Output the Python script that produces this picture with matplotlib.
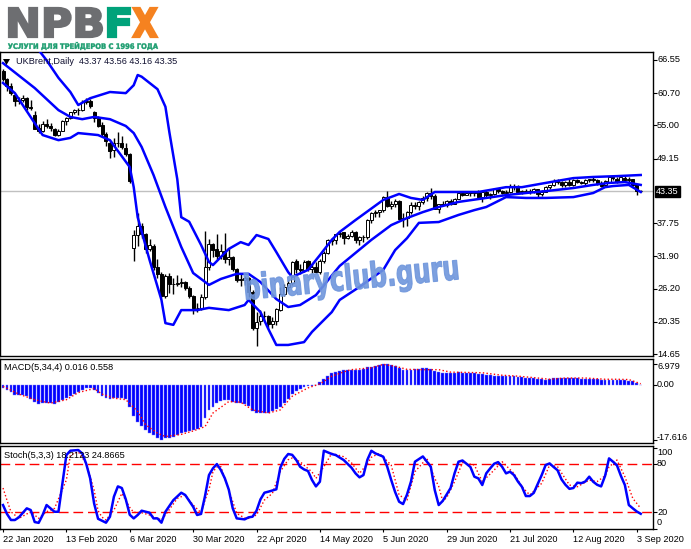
import numpy as np
import matplotlib
matplotlib.use('Agg')
import matplotlib.pyplot as plt
from matplotlib.patches import Rectangle, PathPatch, Polygon
from matplotlib.textpath import TextPath
from matplotlib.font_manager import FontProperties
from matplotlib.transforms import Affine2D, blended_transform_factory, ScaledTranslation

# --- daily UKBrent bars, 22 Jan 2020 .. 4 Sep 2020 ---
opens = [64.6, 63.2, 62.0, 60.4, 59.3, 59.5, 59.8, 58.3, 56.8, 54.5,
         54.0, 55.3, 54.9, 54.3, 53.3, 54.0, 55.8, 56.3, 57.3, 57.7,
         57.8, 59.1, 59.3, 57.4, 56.3, 55.0, 53.4, 51.9, 50.6, 51.9,
         51.9, 51.1, 50.0, 33.3, 35.6, 37.2, 35.8, 33.2, 33.8, 30.0,
         28.7, 24.9, 28.5, 27.0, 27.0, 27.2, 27.4, 26.3, 24.9, 22.8,
         22.7, 24.7, 30.0, 34.1, 33.1, 31.9, 32.8, 31.5, 31.7, 29.6,
         27.7, 27.8, 28.1, 25.6, 19.3, 20.4, 21.3, 21.4, 20.0, 20.5,
         22.5, 25.3, 26.4, 27.2, 31.0, 29.7, 29.5, 31.0, 29.6, 30.0,
         29.2, 31.1, 32.5, 34.8, 34.7, 35.8, 36.1, 35.1, 35.5, 36.2,
         34.7, 35.3, 35.3, 38.3, 39.6, 39.8, 40.0, 42.3, 40.8, 41.2,
         41.7, 38.5, 38.7, 39.7, 41.0, 40.7, 41.5, 42.2, 43.1, 42.6,
         40.3, 41.1, 41.0, 41.7, 41.2, 42.0, 43.1, 42.8, 43.1, 43.1,
         43.3, 42.4, 43.2, 42.7, 42.9, 43.8, 43.4, 43.1, 43.3, 44.3,
         44.3, 43.3, 43.3, 43.4, 43.2, 43.7, 42.9, 43.3, 44.2, 44.4,
         45.2, 45.1, 44.4, 45.0, 44.5, 45.4, 45.0, 44.8, 45.4, 45.5,
         45.4, 44.9, 44.4, 45.1, 45.9, 45.6, 45.1, 45.8, 45.3, 45.6,
         44.6, 43.37]
highs = [64.9, 63.3, 62.4, 60.6, 60.0, 60.4, 60.0, 59.4, 57.5, 55.3,
         55.7, 56.2, 55.4, 54.5, 54.4, 56.0, 56.5, 57.4, 57.9, 58.0,
         59.4, 59.8, 59.7, 57.6, 56.6, 55.6, 53.9, 52.3, 52.7, 53.9,
         53.1, 51.9, 50.1, 36.5, 39.5, 37.8, 36.0, 35.0, 34.0, 31.5,
         29.2, 28.8, 29.0, 28.0, 28.6, 28.1, 27.6, 26.6, 25.0, 23.7,
         25.2, 36.3, 34.9, 34.3, 35.8, 34.0, 36.0, 33.3, 31.9, 29.8,
         28.7, 28.4, 28.2, 25.9, 22.1, 22.4, 22.2, 21.6, 21.1, 22.8,
         26.5, 27.0, 27.7, 31.1, 31.4, 30.5, 31.2, 31.3, 30.6, 30.9,
         31.5, 32.8, 34.9, 35.2, 35.9, 36.3, 36.1, 35.9, 36.5, 36.4,
         35.4, 35.6, 38.4, 39.7, 40.1, 40.0, 42.5, 43.4, 41.6, 42.0,
         41.8, 39.5, 39.9, 41.5, 41.4, 41.6, 42.5, 43.2, 43.9, 42.9,
         41.2, 41.6, 41.9, 42.0, 42.2, 43.2, 43.2, 43.5, 43.4, 43.5,
         43.6, 43.3, 43.6, 43.1, 43.9, 43.9, 43.6, 43.6, 44.6, 44.6,
         44.4, 43.6, 43.8, 43.7, 43.9, 43.8, 43.6, 44.3, 44.5, 45.6,
         45.5, 45.2, 45.2, 45.5, 45.5, 45.6, 45.2, 45.5, 45.6, 45.9,
         45.5, 45.2, 45.3, 46.0, 46.2, 45.9, 46.0, 46.0, 45.9, 45.6,
         44.7, 43.56]
lows = [62.9, 61.1, 60.3, 58.5, 58.7, 59.1, 57.7, 57.8, 54.5, 53.6,
        53.9, 54.6, 54.1, 53.1, 53.1, 54.0, 55.0, 56.2, 57.1, 56.9,
        57.6, 58.8, 58.0, 55.6, 54.8, 53.2, 51.4, 49.2, 49.5, 51.2,
        50.8, 49.6, 44.8, 31.0, 33.8, 35.2, 32.5, 32.8, 29.5, 28.0,
        24.5, 24.5, 25.5, 25.2, 26.6, 26.5, 25.9, 24.5, 21.7, 22.0,
        22.5, 24.4, 29.5, 31.8, 31.5, 31.5, 30.8, 30.4, 29.3, 27.4,
        26.6, 26.8, 24.7, 18.9, 15.98, 19.8, 20.5, 19.2, 19.3, 19.8,
        22.3, 24.9, 25.8, 26.8, 28.9, 28.8, 29.2, 29.3, 29.0, 28.9,
        28.7, 30.8, 32.3, 33.9, 34.1, 35.3, 34.1, 34.9, 35.3, 34.3,
        33.9, 34.5, 35.0, 37.8, 38.8, 38.8, 39.7, 40.6, 40.2, 40.6,
        38.3, 37.0, 37.2, 39.3, 40.2, 40.1, 41.2, 41.6, 42.1, 40.3,
        39.5, 40.7, 40.6, 40.9, 41.1, 42.0, 42.5, 42.7, 42.6, 42.5,
        42.1, 41.5, 42.4, 42.0, 42.8, 43.0, 42.9, 42.6, 43.0, 43.6,
        43.1, 42.9, 43.0, 42.9, 43.0, 42.2, 42.5, 43.2, 43.8, 44.3,
        44.7, 44.1, 44.2, 44.3, 44.3, 44.8, 44.6, 44.5, 45.1, 45.1,
        44.5, 44.2, 44.2, 45.0, 45.4, 44.9, 45.0, 45.1, 45.0, 44.3,
        42.7, 43.16]
closes = [63.21, 62.04, 60.69, 59.32, 59.51, 59.81, 58.29, 58.16, 54.45, 53.96,
          55.28, 54.93, 54.47, 53.27, 54.01, 55.79, 56.34, 57.32, 57.67, 57.75,
          59.12, 59.31, 58.50, 56.30, 54.95, 53.43, 52.18, 50.52, 51.90, 51.86,
          51.13, 49.99, 45.27, 35.60, 37.22, 35.79, 33.22, 33.85, 30.05, 28.73,
          24.88, 28.47, 26.98, 27.03, 27.15, 27.39, 26.34, 24.93, 22.76, 22.74,
          24.74, 29.94, 34.11, 33.05, 31.87, 32.84, 31.48, 31.74, 29.60, 27.69,
          27.82, 28.08, 25.57, 19.33, 20.37, 21.33, 21.44, 19.99, 20.46, 22.54,
          25.27, 26.44, 27.20, 30.97, 29.72, 29.46, 30.97, 29.63, 29.98, 29.19,
          31.13, 32.50, 34.81, 34.65, 35.75, 36.06, 35.13, 35.53, 36.17, 34.74,
          35.29, 35.33, 38.32, 39.57, 39.79, 39.99, 42.30, 40.80, 41.18, 41.73,
          38.55, 38.73, 39.72, 40.96, 40.71, 41.51, 42.19, 43.08, 42.63, 40.31,
          41.05, 41.02, 41.71, 41.15, 42.03, 43.14, 42.80, 43.10, 43.08, 43.29,
          42.35, 43.24, 42.72, 42.90, 43.79, 43.37, 43.14, 43.28, 44.32, 44.29,
          43.31, 43.34, 43.41, 43.22, 43.75, 42.94, 43.30, 44.15, 44.43, 45.17,
          45.09, 44.40, 44.99, 44.50, 45.43, 44.96, 44.80, 45.37, 45.46, 45.37,
          44.90, 44.35, 45.13, 45.86, 45.64, 45.09, 45.81, 45.28, 45.58, 44.43,
          43.40, 43.35]

# Bollinger bands (sampled bar index, price)
up_idx = [0, 7, 11, 14, 17, 19, 22, 27, 31, 33, 34, 35, 39, 41, 42, 44, 45, 47, 50, 52,
          53, 57, 60, 62, 64, 67, 69, 72, 73, 77, 80, 83, 85, 89, 96, 100, 103, 106, 109, 115,
          120, 127, 131, 137, 144, 149, 155, 161]
up_val = [72.5, 70.1, 66.5, 63.4, 60.9, 58.6, 59.8, 60.9, 60.7, 62.1, 63.9, 63.6, 61.4, 58.3, 53.8, 45.5, 38.8, 38.0, 33.9, 30.9,
          30.35, 33.2, 34.4, 33.9, 35.65, 34.95, 32.65, 29.1, 28.25, 29.5, 32.1, 34.8, 36.2, 38.3, 41.85, 42.9, 42.2, 41.85, 43.25, 43.25,
          43.25, 44.1, 44.1, 44.85, 45.7, 45.9, 46.05, 46.25]
mid_idx = [0, 8, 14, 17, 20, 23, 27, 31, 33, 35, 38, 41, 45, 48, 52, 55, 59, 62, 65, 69,
           72, 75, 79, 83, 85, 89, 93, 98, 102, 106, 110, 115, 120, 127, 132, 137, 144, 149, 153, 157, 161]
mid_val = [66.0, 61.6, 57.7, 56.5, 56.1, 56.5, 56.1, 54.9, 53.65, 51.2, 46.25, 40.6, 33.55, 28.95, 26.85, 27.9, 28.8, 28.8, 27.35, 24.35,
           22.95, 23.3, 25.05, 28.5, 30.2, 32.5, 34.8, 37.4, 38.65, 39.7, 40.6, 41.5, 42.0, 42.7, 43.07, 43.4, 43.95, 44.5, 44.85, 45.0, 44.5]
low_idx = [0, 3, 8, 10, 14, 17, 19, 24, 27, 32, 33, 34, 37, 40, 41, 43, 45, 49, 52, 57,
           61, 62, 65, 67, 69, 72, 76, 78, 83, 85, 90, 96, 99, 102, 105, 110, 115, 119, 122, 127,
           132, 137, 144, 149, 152, 154, 158, 161]
low_val = [62.5, 60.7, 55.4, 53.3, 52.4, 52.8, 53.65, 53.3, 52.4, 47.65, 44.1, 38.8, 31.25, 24.2, 20.1, 19.8, 22.4, 22.4, 22.8, 22.4,
           23.3, 24.2, 22.05, 19.05, 16.25, 16.25, 16.75, 18.55, 22.05, 24.2, 26.5, 29.5, 33.0, 35.1, 37.8, 37.95, 39.2, 40.05, 40.6, 42.35,
           42.2, 42.2, 42.35, 43.07, 44.1, 44.3, 44.5, 43.25]

# MACD(5,34,4): main histogram per bar, signal sampled
macd = [-0.8, -1.4, -2.2, -3.0, -3.0, -3.2, -3.5, -4.3, -5.5, -6.0,
        -5.7, -5.6, -5.7, -6.0, -5.2, -4.6, -4.1, -3.4, -2.8, -2.2,
        -1.6, -0.9, -0.8, -1.6, -2.5, -3.3, -4.1, -4.4, -3.9, -3.9,
        -4.1, -4.5, -6.8, -10.0, -11.8, -13.0, -14.5, -15.2, -16.0, -17.0,
        -17.6, -17.1, -16.9, -16.5, -16.0, -15.4, -15.1, -14.8, -14.4, -13.9,
        -13.3, -10.5, -8.0, -6.8, -5.6, -5.0, -4.6, -4.8, -5.2, -5.6,
        -5.8, -6.1, -6.6, -8.3, -8.9, -8.9, -8.9, -8.9, -8.3, -7.6,
        -6.8, -5.6, -4.4, -2.8, -1.9, -1.1, -0.6, -0.3, -0.1, 0.3,
        1.0, 2.2, 3.2, 4.0, 4.5, 4.8, 4.9, 5.1, 5.1, 5.0,
        4.9, 5.2, 5.9, 6.0, 6.2, 6.6, 7.0, 6.8, 6.6, 6.2,
        5.5, 5.1, 5.1, 5.1, 5.2, 5.4, 5.7, 5.6, 5.3, 4.8,
        4.4, 4.1, 4.1, 4.1, 4.1, 4.2, 4.1, 4.1, 4.1, 4.0,
        3.8, 3.7, 3.5, 3.3, 3.2, 3.0, 3.0, 3.0, 3.0, 2.9,
        2.7, 2.6, 2.5, 2.4, 2.3, 2.2, 2.0, 1.9, 2.2, 2.4,
        2.4, 2.4, 2.4, 2.4, 2.4, 2.3, 2.2, 2.2, 2.1, 2.0,
        2.0, 1.9, 1.9, 1.9, 1.9, 1.9, 1.8, 1.8, 1.5, 1.3,
        0.8, 0.016]
sig_idx = [0, 4, 8, 12, 16, 19, 23, 25, 28, 31, 34, 36, 39, 41, 45, 48, 51, 53, 57, 60,
           63, 67, 70, 73, 77, 80, 83, 87, 88, 93, 96, 99, 102, 106, 110, 113, 121, 126, 130, 135,
           138, 142, 147, 152, 155, 158, 161]
sig_val = [-0.3, -2.8, -4.6, -5.7, -4.6, -2.3, -1.0, -2.8, -4.1, -4.6, -8.4, -12.7, -15.4, -16.5, -15.8, -14.7, -13.3, -8.9, -5.2, -5.4,
           -7.9, -8.9, -7.9, -3.5, -0.8, 0.5, 3.0, 4.8, 5.1, 5.7, 6.8, 6.2, 5.2, 5.1, 5.1, 4.3, 4.1, 3.3, 3.0, 2.4,
           2.0, 2.4, 2.4, 2.0, 2.0, 1.9, 0.558]

# Stochastic(5,3,3): %K and %D sampled
k_idx = [0, 1, 2, 3, 4, 6, 7, 8, 9, 10, 11, 13, 14, 15, 16, 17, 19, 20, 21, 22,
         23, 24, 26, 27, 28, 29, 30, 31, 32, 33, 34, 35, 37, 38, 39, 40, 41, 43, 45, 46,
         48, 49, 50, 51, 52, 53, 54, 55, 56, 57, 58, 59, 61, 62, 63, 64, 65, 66, 67, 69,
         70, 71, 72, 73, 74, 75, 76, 77, 78, 79, 80, 81, 83, 84, 86, 88, 89, 90, 91, 92,
         93, 94, 96, 97, 98, 99, 100, 101, 102, 103, 104, 106, 108, 109, 110, 111, 112, 113, 114, 115,
         116, 117, 118, 119, 120, 121, 122, 123, 124, 125, 126, 127, 128, 129, 130, 131, 132, 133, 134, 135,
         136, 137, 138, 139, 140, 141, 142, 143, 144, 145, 146, 147, 148, 149, 150, 151, 152, 153, 154, 155,
         156, 157, 158, 159, 160, 161]
k_val = [29, 18, 10.5, 10.5, 13.8, 24.9, 22.8, 8, 7, 16.7, 29, 20.7, 20.7, 55.8, 90.7, 96.1, 96.9, 92.8, 80, 62,
         31, 12, 7.2, 14.6, 39.3, 52, 50, 36, 17, 12.5, 16.7, 22, 19.5, 12.5, 12.5, 7.2, 20.7, 35, 44.2, 41.4,
         26.9, 16.7, 18, 40, 66, 74.3, 79.6, 72.2, 62, 48, 24.9, 12.5, 11.3, 13.8, 14.6, 22, 36, 44.2, 45.5, 48.4,
         75, 86, 92, 91, 85, 76.3, 73, 71, 60, 52, 57.8, 96.1, 92, 90.7, 84.6, 75, 68.1, 63.2, 66, 85,
         96, 92.8, 88.7, 76.3, 60, 45, 33.1, 30.2, 42, 58, 82.5, 89, 76.3, 47.5, 29, 34, 42, 50, 68.1, 82.5,
         84, 80, 76, 64, 61.9, 53.7, 68.1, 74.3, 80, 82, 76.3, 68.1, 70.2, 66, 58, 51.6, 40.1, 40.1, 44, 55,
         66, 78.4, 80.4, 76, 72, 60.7, 54, 49, 50, 56.6, 56, 58, 64, 57.8, 54, 52, 65, 86.6, 82.5, 78,
         65, 53.7, 29, 24.9, 21, 18.2]
d_idx = [0, 1, 2, 4, 7, 9, 11, 13, 16, 17, 19, 21, 23, 24, 25, 26, 28, 30, 32, 33,
         35, 37, 40, 41, 44, 46, 48, 50, 51, 52, 53, 54, 55, 57, 59, 61, 62, 64, 66, 68,
         70, 72, 73, 75, 77, 78, 79, 81, 83, 86, 88, 90, 92, 93, 95, 98, 100, 102, 104, 107,
         109, 110, 111, 112, 114, 116, 119, 121, 124, 126, 129, 131, 133, 136, 138, 140, 143, 145, 148, 150,
         152, 153, 155, 157, 159, 161]
d_val = [50, 35, 20.7, 12.5, 20.7, 12.5, 20.7, 24.9, 60, 90.7, 94.8, 80.4, 47.5, 22, 14, 10.5, 22.8, 43.4, 26, 20,
         19.5, 16.7, 10.5, 16.7, 37.2, 41.4, 29, 19.5, 35, 48, 70, 76, 76.3, 47.5, 18.7, 13, 12.5, 16.7, 35.2, 43.4,
         70.2, 85, 87, 82.5, 74, 70, 61.9, 76.3, 92.8, 88.7, 81, 68.1, 80, 88, 92.8, 78.4, 41.4, 35.2, 70.2, 86.6,
         62, 52, 34, 38, 57.8, 81.3, 78.4, 57.8, 72.2, 82.5, 68.1, 51.6, 41.4, 55.8, 78.4, 76.3, 53.7, 51.6, 59.8, 58,
         65, 76, 84.6, 64, 37.2, 24.9]

date_pos = [0, 16, 32, 48, 64, 80, 96, 112, 128, 144, 160]
date_lbl = ['22 Jan 2020', '13 Feb 2020', '6 Mar 2020', '30 Mar 2020', '22 Apr 2020', '14 May 2020',
            '5 Jun 2020', '29 Jun 2020', '21 Jul 2020', '12 Aug 2020', '3 Sep 2020']
price_ticks = [66.55, 60.70, 55.00, 49.15, 37.75, 31.90, 26.20, 20.35, 14.65]
last_price = 43.35

W, H = 691, 549
FONT = 'Liberation Sans'
FS = 6.6
plt.rcParams['font.family'] = FONT

fig = plt.figure(figsize=(W / 100, H / 100), dpi=100)


def px_axes(x0, y0, x1, y1):
    return fig.add_axes([x0 / W, 1 - y1 / H, (x1 - x0) / W, (y1 - y0) / H])


ax_p = px_axes(0, 52, 653, 356)
ax_m = px_axes(0, 359, 653, 443)
ax_s = px_axes(0, 446, 653, 529)

xlim = (-0.76, 164.1)
for ax in (ax_p, ax_m, ax_s):
    ax.set_xlim(*xlim)
    for sp in ax.spines.values():
        sp.set_color('black')
        sp.set_linewidth(1)
    ax.yaxis.tick_right()
    ax.tick_params(axis='y', direction='out', length=3, width=0.8, labelsize=FS, pad=2)
    ax.tick_params(axis='x', bottom=False, labelbottom=False)


def right_labels(ax, vals, labels, offs):
    ax.set_yticks(vals)
    ax.set_yticklabels([])
    tr = blended_transform_factory(ax.transAxes, ax.transData)
    for v, lab, off in zip(vals, labels, offs):
        ax.text(1 + 4 / 653, v, lab, fontsize=FS, va='center', ha='left',
                transform=tr + ScaledTranslation(0, -off / 100, fig.dpi_scale_trans))


# ---- price panel ----
idx = np.arange(len(closes))
o = np.array(opens); h = np.array(highs); l = np.array(lows); c = np.array(closes)
ax_p.set_ylim(14.30, 67.96)
ax_p.axhline(last_price, color='#c0c0c0', lw=1, zorder=1)
ax_p.vlines(idx, l, h, color='black', lw=1, zorder=2)
for i in idx:
    bot = min(o[i], c[i])
    ht = max(abs(c[i] - o[i]), 0.08)
    fc = 'white' if c[i] >= o[i] else 'black'
    ax_p.add_patch(Rectangle((i - 0.38, bot), 0.76, ht, facecolor=fc, edgecolor='black', lw=0.7, zorder=3))
for bi, bv in ((up_idx, up_val), (mid_idx, mid_val), (low_idx, low_val)):
    ax_p.plot(bi, bv, color='#0000ff', lw=1.8, zorder=4, solid_joinstyle='round')
right_labels(ax_p, price_ticks, ['%.2f' % v for v in price_ticks], [0] * len(price_ticks))
ax_p.text(1 + 3 / 653, last_price, '%.2f' % last_price, fontsize=FS, color='white', va='center', ha='left',
          transform=blended_transform_factory(ax_p.transAxes, ax_p.transData),
          bbox=dict(boxstyle='square,pad=0.15', facecolor='black', edgecolor='black'), zorder=6, clip_on=False)

# ---- MACD panel ----
ax_m.set_ylim(-18.58, 8.54)
ax_m.bar(idx, macd, width=0.72, color='#0000ff', edgecolor='#7a7aff', lw=0.3, zorder=2)
ax_m.plot(sig_idx, sig_val, color='red', lw=1, ls=':', zorder=3)
right_labels(ax_m, [6.979, 0.0, -17.616], ['6.979', '0.00', '-17.616'], [3, -1, -3])

# ---- Stochastic panel ----
ax_s.set_ylim(-0.6, 101.9)
for lv in (80, 20):
    ax_s.axhline(lv, color='red', lw=1, ls=(0, (7, 3.5)), zorder=1)
ax_s.plot(d_idx, d_val, color='red', lw=1, ls=':', zorder=2)
ax_s.plot(k_idx, k_val, color='#0000ff', lw=1.8, zorder=3)
right_labels(ax_s, [100, 80, 20, 0], ['100', '80', '20', '0'], [5, 0, 0, -6])
ax_s.set_xticks(date_pos)
ax_s.set_xticklabels(date_lbl, ha='left')
ax_s.tick_params(axis='x', bottom=True, labelbottom=True, direction='out', length=2.5, width=0.8,
                 labelsize=FS, pad=1.5)

# ---- overlay in pixel coordinates: titles, logo, watermark ----
ov = fig.add_axes([0, 0, 1, 1])
ov.set_xlim(0, W)
ov.set_ylim(H, 0)
ov.axis('off')
ov.patch.set_alpha(0)

ov.add_patch(Polygon([[3, 59], [10, 59], [6.5, 65]], closed=True, facecolor='black', edgecolor='none'))
ov.text(16, 62, 'UKBrent,Daily  43.37 43.56 43.16 43.35', fontsize=FS, va='center', ha='left', color='#101030')
ov.text(4, 368, 'MACD(5,34,4) 0.016 0.558', fontsize=FS, va='center', ha='left')
ov.text(4, 455, 'Stoch(5,3,3) 18.2123 24.8665', fontsize=FS, va='center', ha='left')


def path_text(s, box, color, weight='bold', angle=0, alpha=1.0, z=5, stroke=0.0):
    tp = TextPath((0, 0), s, size=10, prop=FontProperties(family='DejaVu Sans', weight=weight))
    ext = tp.get_extents()
    x0, y0, x1, y1 = box
    sx = (x1 - x0) / ext.width
    sy = (y1 - y0) / ext.height
    cx, cy = (x0 + x1) / 2, (y0 + y1) / 2
    tr = (Affine2D().translate(-ext.x0 - ext.width / 2, -ext.y0 - ext.height / 2)
          .scale(sx, -sy).rotate_deg(-angle).translate(cx, cy))
    ov.add_patch(PathPatch(tr.transform_path(tp), facecolor=color, edgecolor=color if stroke else 'none',
                           lw=stroke, alpha=alpha, zorder=z))


path_text('NPB', (9, 8, 102, 37), '#6d6e71', stroke=1.6)
path_text('F', (108, 8, 130, 37), '#00a27a', stroke=1.6)
path_text('X', (133, 8, 157, 37), '#f58220', stroke=1.6)
path_text('УСЛУГИ ДЛЯ ТРЕЙДЕРОВ С 1996 ГОДА', (8, 42, 158, 50), '#1a9c6e', stroke=0.3)
path_text('binaryclub.guru', (245, 263, 458, 297), '#6f96dc', angle=5.5, alpha=0.9, stroke=0.8)

fig.savefig('out.png', dpi=100)
